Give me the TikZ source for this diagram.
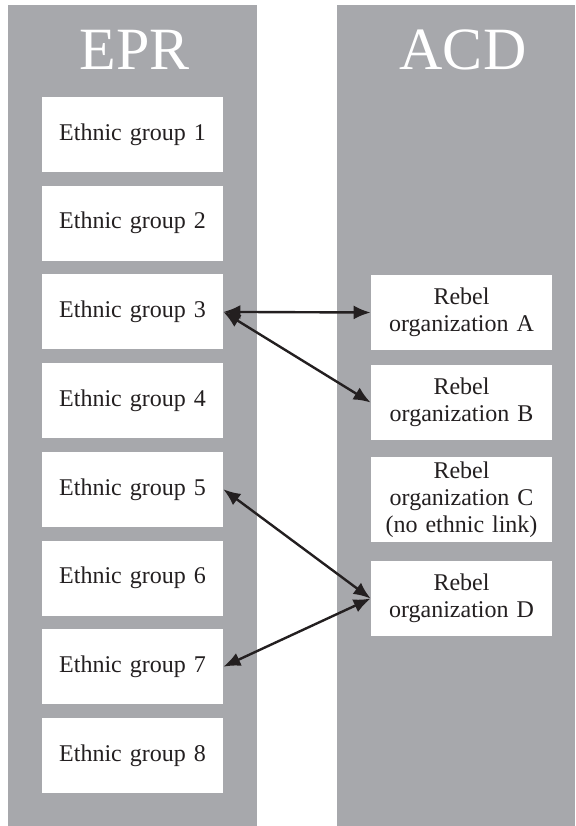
\documentclass[tikz,border=0pt]{standalone}
\usepackage{fontspec}
\setmainfont{Liberation Serif}
\usetikzlibrary{arrows.meta}
\definecolor{colgray}{RGB}{167,168,172}
\definecolor{inkdark}{RGB}{35,31,32}
\tikzset{>={Latex[length=8.5pt,width=7pt]}}
\tikzset{
  groupbox/.style={fill=white, inner sep=0pt, minimum width=90.5pt, minimum height=37.5pt, text width=88pt, align=center, text=inkdark, font=\fontsize{12}{13.5}\selectfont},
  headtext/.style={anchor=base, text=white, font=\fontsize{30}{34}\selectfont},
  link/.style={<->, line width=1.2pt, draw=inkdark}
}

\begin{document}
\begin{tikzpicture}[x=0.5pt, y=-0.5pt]
    \useasboundingbox (0,0) rectangle (575,826);
    \fill[colgray] (8,5) rectangle (257,826);
    \fill[colgray] (337,5) rectangle (575,826);

    \node[headtext] (epr) at (135,69) {EPR};
    \node[headtext] (acd) at (463,69) {ACD};

    \node[groupbox] (e1) at (132.5,134.5) {Ethnic group 1};
    \node[groupbox] (e2) at (132.5,223.2) {Ethnic group 2};
    \node[groupbox] (e3) at (132.5,311.9) {Ethnic group 3};
    \node[groupbox] (e4) at (132.5,400.6) {Ethnic group 4};
    \node[groupbox] (e5) at (132.5,489.3) {Ethnic group 5};
    \node[groupbox] (e6) at (132.5,578) {Ethnic group 6};
    \node[groupbox] (e7) at (132.5,666.7) {Ethnic group 7};
    \node[groupbox] (e8) at (132.5,755.4) {Ethnic group 8};

    \node[groupbox] (rA) at (461.5,312.5) {Rebel\\organization A};
    \node[groupbox] (rB) at (461.5,402.5) {Rebel\\organization B};
    \node[groupbox, minimum height=42.5pt] (rC) at (461.5,499.5) {Rebel\\organization C\\(no ethnic link)};
    \node[groupbox] (rD) at (461.5,598.5) {Rebel\\organization D};

    \draw[link] (e3.east) -- (rA.west);
    \draw[link] (e3.east) -- (rB.west);
    \draw[link] (e5.east) -- (rD.west);
    \draw[link] (e7.east) -- (rD.west);
\end{tikzpicture}
\end{document}
